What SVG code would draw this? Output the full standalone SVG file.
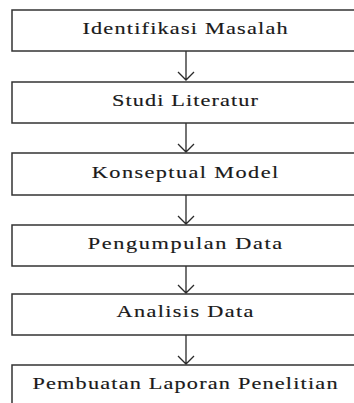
<svg xmlns="http://www.w3.org/2000/svg" width="354" height="403" viewBox="0 0 354 403">
<defs>
<style>
.box{fill:#fff;stroke:#333;stroke-width:1.5}
.lbl{font-family:'Liberation Serif','Times New Roman',serif;font-size:16.5px;fill:#1a1a1a;stroke:#1a1a1a;stroke-width:0.15;text-anchor:middle}
.con{stroke:#2a2a2a;stroke-width:1.3;fill:none}
</style>
</defs>
<rect width="354" height="403" fill="#fff"/>
<g id="connectors" class="con">
<path d="M186,51 V80 M178,72 L186,80 L194,72"/>
<path d="M186,123 V152 M178,144 L186,152 L194,144"/>
<path d="M186,195 V224 M178,216 L186,224 L194,216"/>
<path d="M186,266 V293 M178,285 L186,293 L194,285"/>
<path d="M186,335 V364 M178,356 L186,364 L194,356"/>
</g>
<g id="n1"><rect class="box" x="12" y="10" width="346" height="41"/>
<g transform="translate(185,0) scale(1.35,1)"><text class="lbl" x="0" y="34" textLength="152" lengthAdjust="spacing">Identifikasi Masalah</text></g></g>
<g id="n2"><rect class="box" x="12" y="82" width="346" height="41"/>
<g transform="translate(185,0) scale(1.35,1)"><text class="lbl" x="0" y="106" textLength="108" lengthAdjust="spacing">Studi Literatur</text></g></g>
<g id="n3"><rect class="box" x="12" y="153" width="346" height="42"/>
<g transform="translate(185,0) scale(1.35,1)"><text class="lbl" x="0" y="178" textLength="138" lengthAdjust="spacing">Konseptual Model</text></g></g>
<g id="n4"><rect class="box" x="12" y="225" width="346" height="41"/>
<g transform="translate(185,0) scale(1.35,1)"><text class="lbl" x="0" y="249" textLength="144" lengthAdjust="spacing">Pengumpulan Data</text></g></g>
<g id="n5"><rect class="box" x="12" y="294" width="346" height="41"/>
<g transform="translate(185,0) scale(1.35,1)"><text class="lbl" x="0" y="317" textLength="101.5" lengthAdjust="spacing">Analisis Data</text></g></g>
<g id="n6"><rect class="box" x="12" y="365" width="346" height="45"/>
<g transform="translate(185,0) scale(1.35,1)"><text class="lbl" x="0" y="389" textLength="226" lengthAdjust="spacing">Pembuatan Laporan Penelitian</text></g></g>
</svg>
